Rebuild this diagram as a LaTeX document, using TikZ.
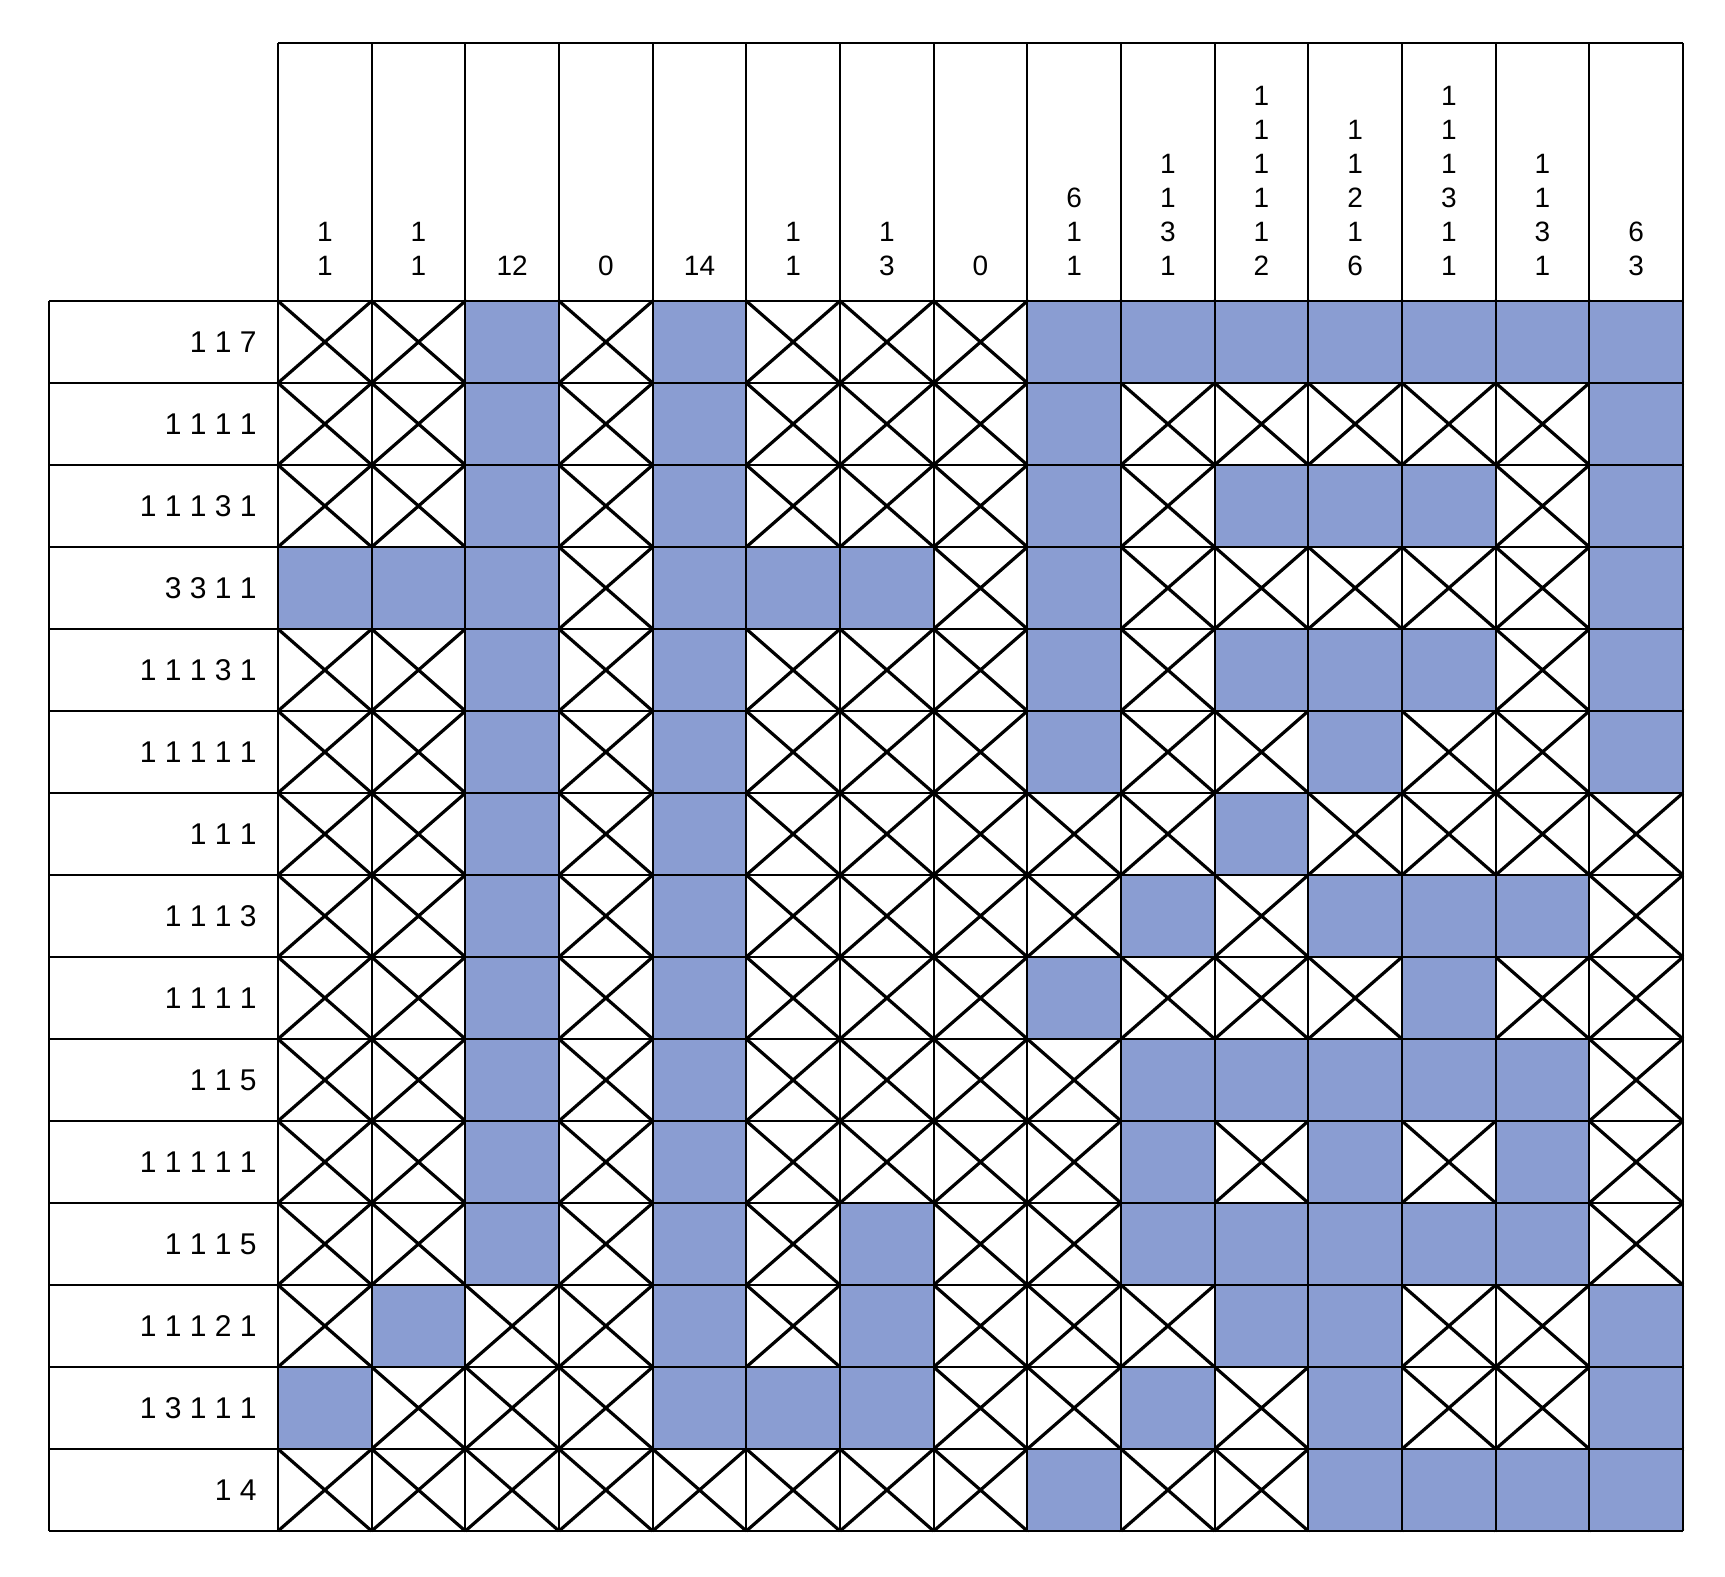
\documentclass[tikz,border=0pt]{standalone}
\usepackage{fontspec}
\setmainfont{Liberation Sans}
\usepackage{tikz}
\usetikzlibrary{calc}
\definecolor{filled}{RGB}{138,157,210}

\begin{document}
\begin{tikzpicture}[x=0.5pt,y=-0.5pt,
		grid/.style={line width=1.1pt},
		cross/.style={line width=1.6pt},
		colclue/.style={inner sep=0pt,anchor=south,align=center,font=\fontsize{14}{17}\selectfont},
		rowclue/.style={inner sep=0pt,anchor=east,font=\fontsize{15}{17}\selectfont}]
		\useasboundingbox (0,0) rectangle (1725,1577);
		\def\gx{278} \def\gy{301}
		\def\colw{93.667} \def\rowh{82}
		% crosses in every cell, filled cells painted over them
		\foreach \r in {1,...,15}
			\foreach \c in {1,...,15}
				\draw[cross] ({\gx+(\c-1)*\colw},{\gy+(\r-1)*\rowh}) -- ++(\colw,\rowh) ++(-\colw,0) -- ++(\colw,-\rowh);
		\foreach \r/\cells in {1/{3,5,9,10,11,12,13,14,15}, 2/{3,5,9,15}, 3/{3,5,9,11,12,13,15},
				4/{1,2,3,5,6,7,9,15}, 5/{3,5,9,11,12,13,15}, 6/{3,5,9,12,15}, 7/{3,5,11},
				8/{3,5,10,12,13,14}, 9/{3,5,9,13}, 10/{3,5,10,11,12,13,14}, 11/{3,5,10,12,14},
				12/{3,5,7,10,11,12,13,14}, 13/{2,5,7,11,12,15}, 14/{1,5,6,7,10,12,15},
				15/{9,12,13,14,15}}
			\foreach \c in \cells
				\fill[filled] ({\gx+(\c-1)*\colw},{\gy+(\r-1)*\rowh}) rectangle ++(\colw,\rowh);
		% grid lines
		\foreach \r in {0,...,15}
			\draw[grid] (49,{\gy+\r*\rowh}) -- (1683,{\gy+\r*\rowh});
		\foreach \c in {0,...,15}
			\draw[grid] ({\gx+\c*\colw},43) -- ({\gx+\c*\colw},1531);
		\draw[grid] (\gx,43) -- (1683,43);
		\draw[grid] (49,\gy) -- (49,1531);
		% clues
		\foreach \c/\txt in {1/{1\\1}, 2/{1\\1}, 3/{12}, 4/{0}, 5/{14}, 6/{1\\1}, 7/{1\\3}, 8/{0},
				9/{6\\1\\1}, 10/{1\\1\\3\\1}, 11/{1\\1\\1\\1\\1\\2}, 12/{1\\1\\2\\1\\6},
				13/{1\\1\\1\\3\\1\\1}, 14/{1\\1\\3\\1}, 15/{6\\3}}
			\node[colclue] (col\c) at ({\gx+(\c-0.5)*\colw},276) {\txt};
		\foreach \r/\txt in {1/{1 1 7}, 2/{1 1 1 1}, 3/{1 1 1 3 1}, 4/{3 3 1 1}, 5/{1 1 1 3 1},
				6/{1 1 1 1 1}, 7/{1 1 1}, 8/{1 1 1 3}, 9/{1 1 1 1}, 10/{1 1 5},
				11/{1 1 1 1 1}, 12/{1 1 1 5}, 13/{1 1 1 2 1}, 14/{1 3 1 1 1}, 15/{1 4}}
			\node[rowclue] (row\r) at (257,{\gy+(\r-0.5)*\rowh}) {\txt};
\end{tikzpicture}
\end{document}
